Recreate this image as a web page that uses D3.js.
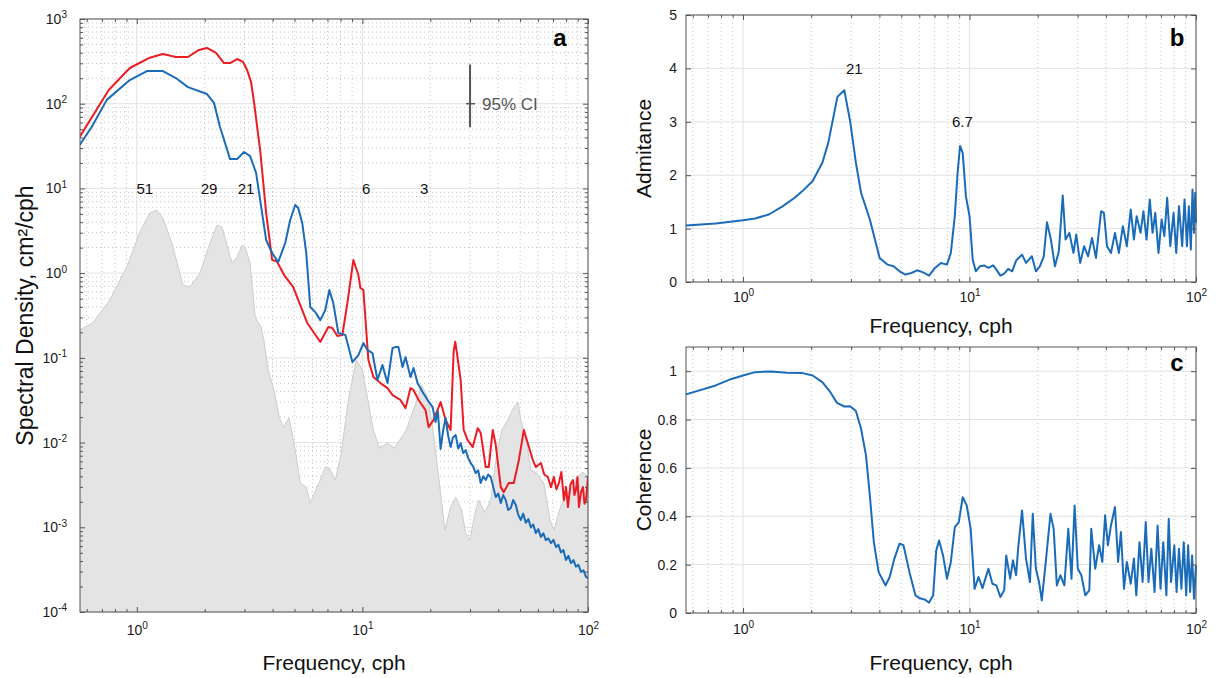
<!DOCTYPE html>
<html>
<head>
<meta charset="utf-8">
<script src="https://cdn.jsdelivr.net/npm/d3@7"></script>
<style>
  body { margin: 0; background: #fff; }
  text { font-family: "Liberation Sans", Arial, Helvetica, sans-serif; }
</style>
</head>
<body>
<script>
// ---- panel a: spectra (cph, cm^2/cph) ----
var redFreq = [0.558,0.751,0.931,1.131,1.305,1.49,1.685,1.886,2.047,2.244,2.436,2.591,2.783,2.958,3.083,3.211,3.311,3.522,3.744,3.981,4.18,4.5,4.935,5.696,6.506,7.063,7.356,7.743,8.149,8.577,9.12,9.6,9.797,10.1,10.63,11.19,12.02,12.92,13.6,14.31,14.75,15.53,16.34,16.85,17.74,19.05,19.65,20.68,22.22,23.38,24.61,25.38,25.8,26.17,27.26,28.11,29.29,30.83,32.45,33.45,35.21,36.31,37.83,39.01,41.05,42.33,44.56,46.9,49.37,51.96,54.7,56.96,58.74,61.83,64.0,66.4,68.49,70.6,72.4,74.3,76.2,78.2,79.9,81.5,83.6,85.8,87.1,88.4,89.8,91.2,93.1,95.0,96.5,98.0,100];
var redPsd = [40.4,145,264,346,386,356,356,431,455,397,302,302,337,311,250,180,102,28.4,5.12,1.43,1.37,0.95,0.685,0.258,0.1537,0.231,0.225,0.181,0.186,0.443,1.43,0.95,0.667,0.631,0.0942,0.0593,0.0504,0.044,0.0364,0.0335,0.0318,0.0255,0.044,0.0417,0.0318,0.0242,0.0152,0.0185,0.0301,0.0185,0.0141,0.12,0.155,0.12,0.0547,0.0141,0.0107,0.00885,0.0148,0.013,0.00514,0.00514,0.0141,0.00935,0.00298,0.0026,0.00333,0.00333,0.00621,0.0141,0.00885,0.00621,0.00514,0.00573,0.0042,0.00392,0.00298,0.00392,0.0028,0.00333,0.0045,0.00209,0.003,0.00173,0.0032,0.00361,0.0024,0.00275,0.0039,0.00173,0.0026,0.00298,0.0019,0.00209,0.00392];

var blueFreq = [0.558,0.631,0.736,0.931,1.108,1.305,1.49,1.685,2.047,2.199,2.338,2.591,2.783,2.989,3.179,3.38,3.522,3.744,3.981,4.233,4.548,4.786,5.038,5.195,5.412,5.638,5.873,6.18,6.506,6.848,7.134,7.431,7.823,8.405,9.028,9.6,10.1,10.52,11.08,11.66,12.27,12.92,13.6,14.02,14.45,15.06,15.53,16.34,16.85,17.56,18.48,19.45,20.47,21.1,21.6,22.22,22.8,23.38,24.0,24.61,25.2,25.9,26.6,27.26,28.0,28.7,29.4,30.2,31.0,31.78,32.6,33.45,34.3,35.21,36.1,37.06,38.0,39.01,40.0,41.05,42.1,43.2,44.3,45.48,46.6,47.86,49.1,50.38,51.6,53.0,54.4,55.81,57.2,58.74,60.2,61.83,63.4,65.06,66.7,68.49,70.3,72.1,74.0,75.86,77.8,79.84,81.9,84.04,86.2,88.4,90.7,93.1,95.5,98.0,100];
var bluePsd = [32.5,53.1,111,190,243,243,201,157,130,102,53.1,22.2,22.2,26.9,24.1,15.2,7.29,2.46,1.73,1.35,2.27,4.24,6.37,5.87,3.9,1.73,0.398,0.347,0.279,0.367,0.631,0.443,0.196,0.186,0.0892,0.108,0.1496,0.124,0.114,0.0547,0.0822,0.0504,0.1305,0.134,0.134,0.0779,0.102,0.0593,0.0758,0.0504,0.0395,0.0318,0.0262,0.0175,0.0235,0.0084,0.014,0.0195,0.012,0.00885,0.0115,0.01227,0.0085,0.00987,0.0075,0.00815,0.0066,0.00573,0.0052,0.00436,0.0047,0.00333,0.004,0.00361,0.0042,0.00392,0.003,0.00227,0.0025,0.00193,0.0024,0.00209,0.0016,0.00169,0.0021,0.00183,0.0014,0.00122,0.00145,0.00113,0.00125,0.000996,0.00108,0.000854,0.00095,0.000771,0.00085,0.000706,0.00074,0.00065,0.00071,0.000586,0.00062,0.000504,0.00054,0.00041,0.00046,0.000378,0.00041,0.000343,0.00036,0.000297,0.00031,0.000259,0.00025];

var grayFreq = [0.558,0.637,0.759,0.903,1.031,1.142,1.227,1.305,1.431,1.601,1.72,1.905,2.111,2.268,2.386,2.512,2.643,2.783,2.929,3.02,3.179,3.35,3.55,3.66,3.82,4.058,4.277,4.455,4.737,5.038,5.302,5.638,5.873,6.12,6.506,6.848,7.134,7.586,8.06,8.66,9.4,10.0,10.52,11.19,11.89,12.92,13.86,15.66,17.24,18.3,19.45,20.47,22.22,23.2,24.61,25.9,27.54,28.7,29.9,31.78,32.8,34.8,37.06,39.4,41.5,44.1,46.9,48.9,50.38,53.5,55.81,59.3,63.7,67.9,70.6,74.8,78.6,84.04,89.4,95.0,100];
var grayPsd = [0.213,0.258,0.481,1.18,3.06,5.12,5.56,4.47,2.27,0.724,0.685,1.0,2.27,3.7,3.5,2.15,1.316,1.55,2.15,2.03,1.316,0.3,0.234,0.16,0.0718,0.0417,0.02,0.0152,0.0195,0.00815,0.00333,0.00298,0.00193,0.00253,0.00361,0.00514,0.005,0.00361,0.00752,0.0318,0.0942,0.0718,0.0345,0.0141,0.00861,0.00987,0.00861,0.0141,0.0293,0.0477,0.0345,0.0152,0.00253,0.000927,0.00173,0.00227,0.0016,0.000854,0.000706,0.0016,0.00209,0.00151,0.00209,0.00752,0.0141,0.0185,0.0262,0.0301,0.0185,0.00987,0.00473,0.00436,0.00333,0.00122,0.000927,0.0016,0.00227,0.00275,0.00392,0.0045,0.00392];

var periodLabels = ["51", "29", "21", "6", "3"];
var periodFreq = [1.085, 2.09, 3.05, 10.4, 18.8];
var ciFreq = 30, ciCenter = 100, ciLow = 53, ciHigh = 290;

// ---- panel b: admitance ----
var admFreq = [0.56,0.757,1.0,1.13,1.30,1.50,1.69,1.83,2.03,2.24,2.38,2.61,2.80,2.97,3.15,3.32,3.63,4.01,4.35,4.62,4.91,5.21,5.53,5.88,6.24,6.63,7.04,7.48,7.95,8.27,8.61,8.86,9.08,9.33,9.64,10.0,10.33,10.66,11.1,11.64,12.12,12.72,13.14,13.68,14.23,14.82,15.43,16.06,17.06,17.76,18.86,19.63,20.44,21.28,21.98,22.88,23.83,24.8,25.8,26.55,27.6,28.77,29.59,30.8,32.06,33.38,34.75,36.17,38.12,39.2,40.48,42.13,43.87,45.66,47.55,49.5,51.5,53.2,54.7,56.9,58.6,60.5,62.5,64.3,66.1,68.3,70.5,72.5,74.6,77.0,79.6,81.8,84.1,86.9,89.0,91.2,93.0,94.9,96.5,98.0,99.2,100];
var admVal = [1.058,1.095,1.158,1.19,1.264,1.42,1.577,1.702,1.89,2.234,2.61,3.467,3.592,3.016,2.234,1.671,1.17,0.451,0.325,0.294,0.2,0.138,0.169,0.219,0.181,0.119,0.263,0.357,0.325,0.544,1.233,2.046,2.547,2.42,1.608,1.233,0.419,0.2,0.294,0.307,0.263,0.313,0.232,0.119,0.156,0.244,0.2,0.4,0.513,0.357,0.482,0.2,0.294,0.482,1.12,0.795,0.294,0.576,1.62,0.795,0.92,0.544,0.889,0.357,0.67,0.482,0.826,0.451,1.327,1.295,0.67,0.544,0.92,0.544,1.045,0.67,1.358,0.795,1.233,0.92,1.327,0.795,1.546,0.92,1.295,0.544,1.17,0.858,1.577,0.67,1.295,0.544,1.42,0.67,1.546,0.67,1.42,0.607,1.733,0.92,1.67,1.108];
var admLabels = ["21", "6.7"];
var admLabelFreq = [3.1, 9.3];
var admLabelVal = [4.0, 3.0];

// ---- panel c: coherence ----
var cohFreq = [0.56,0.757,0.889,1.0,1.13,1.33,1.56,1.83,2.03,2.24,2.43,2.60,2.80,2.97,3.15,3.32,3.49,3.63,3.78,3.97,4.26,4.44,4.66,4.91,5.11,5.43,5.77,6.0,6.37,6.63,6.91,7.13,7.34,7.64,7.95,8.27,8.61,8.97,9.33,9.72,10.12,10.53,10.96,11.41,12.12,12.62,13.14,13.68,14.23,14.52,15.12,15.55,16.06,16.39,17.06,17.76,18.49,19.02,19.63,20.28,20.85,21.71,22.78,23.53,24.3,25.2,26.23,27.3,28.2,29.11,30.07,31.17,32.45,33.8,34.47,35.89,37.36,38.58,39.69,40.82,42.13,43.87,45.3,46.6,48.1,49.5,51.5,53.2,54.5,56.3,58.1,60.0,61.7,63.5,65.6,67.7,69.7,71.7,74.0,75.8,77.6,80.2,82.1,84.1,86.2,88.3,90.5,92.3,94.2,96.1,98.0,100];
var cohVal = [0.904,0.941,0.968,0.982,0.996,0.999,0.994,0.992,0.982,0.955,0.913,0.869,0.854,0.855,0.835,0.762,0.652,0.486,0.293,0.169,0.114,0.149,0.225,0.287,0.28,0.169,0.073,0.062,0.055,0.043,0.073,0.259,0.3,0.238,0.142,0.211,0.355,0.376,0.479,0.445,0.348,0.1,0.149,0.103,0.183,0.121,0.114,0.066,0.094,0.238,0.142,0.218,0.156,0.266,0.424,0.225,0.128,0.41,0.183,0.128,0.052,0.211,0.41,0.348,0.114,0.156,0.114,0.348,0.142,0.445,0.183,0.156,0.073,0.094,0.348,0.183,0.28,0.211,0.404,0.28,0.362,0.438,0.211,0.335,0.1,0.211,0.121,0.225,0.073,0.293,0.128,0.376,0.128,0.266,0.087,0.362,0.1,0.293,0.073,0.39,0.128,0.28,0.087,0.266,0.1,0.293,0.073,0.28,0.087,0.238,0.059,0.197];

var fMin = 0.56, fMax = 100;
var RED = "#ec1c24", BLUE = "#1a6cb9";

var svg = d3.select("body").append("svg")
    .attr("width", 1216)
    .attr("height", 678);

function minorLog(lo, hi) {
    var out = [];
    for (var e = Math.floor(Math.log10(lo)); e < Math.ceil(Math.log10(hi)); e++) {
        for (var k = 2; k <= 9; k++) {
            var v = k * Math.pow(10, e);
            if (v >= lo && v <= hi) out.push(v);
        }
    }
    return out;
}

function supLabel(sel) {
    sel.each(function(d) {
        var t = d3.select(this), e = Math.round(Math.log10(d));
        t.text(null);
        t.append("tspan").text("10");
        t.append("tspan").attr("dy", "-0.55em").attr("font-size", "0.72em").text(e);
    });
}

// grid lines behind the data
function axes(g, x, y, w, h, o) {
    var grid = g.append("g");
    grid.selectAll(".xm").data(o.xMinor).join("line")
        .attr("x1", x).attr("x2", x).attr("y1", 0).attr("y2", h)
        .attr("stroke", "#c4c4c4").attr("stroke-dasharray", "1,3");
    if (o.yMinor) {
        grid.selectAll(".ym").data(o.yMinor).join("line")
            .attr("x1", 0).attr("x2", w).attr("y1", y).attr("y2", y)
            .attr("stroke", "#c4c4c4").attr("stroke-dasharray", "1,3");
    }
    grid.selectAll(".xM").data(o.xMajor).join("line")
        .attr("x1", x).attr("x2", x).attr("y1", 0).attr("y2", h)
        .attr("stroke", "#e2e2e2");
    grid.selectAll(".yM").data(o.yMajor).join("line")
        .attr("x1", 0).attr("x2", w).attr("y1", y).attr("y2", y)
        .attr("stroke", "#e2e2e2");
}

// box, inward ticks on all sides, tick labels
function frame(g, x, y, w, h, o) {
    var font = function(s) {
        s.attr("font-size", 14).attr("font-family", "'Liberation Sans', Arial, sans-serif");
        s.select(".domain").remove();
        s.selectAll("line").attr("stroke", "#555");
        s.selectAll("text").attr("fill", "#1a1a1a");
    };
    var xb = g.append("g").attr("transform", "translate(0," + h + ")")
        .call(d3.axisBottom(x).tickValues(o.xMajor).tickSize(-5).tickPadding(o.xPad));
    font(xb);
    xb.selectAll("text").call(supLabel);
    g.append("g").attr("transform", "translate(0," + h + ")")
        .call(d3.axisBottom(x).tickValues(o.xMinor).tickSize(-3).tickFormat("")).call(font);
    g.append("g").call(d3.axisTop(x).tickValues(o.xMajor).tickSize(-5).tickFormat("")).call(font);
    g.append("g").call(d3.axisTop(x).tickValues(o.xMinor).tickSize(-3).tickFormat("")).call(font);

    var yl = g.append("g").call(d3.axisLeft(y).tickValues(o.yMajor).tickSize(-5).tickPadding(o.yPad));
    font(yl);
    if (o.yLog) yl.selectAll("text").call(supLabel);
    else yl.selectAll("text").text(o.yFmt);
    g.append("g").attr("transform", "translate(" + w + ",0)")
        .call(d3.axisRight(y).tickValues(o.yMajor).tickSize(-5).tickFormat("")).call(font);
    if (o.yMinor) {
        g.append("g").call(d3.axisLeft(y).tickValues(o.yMinor).tickSize(-3).tickFormat("")).call(font);
        g.append("g").attr("transform", "translate(" + w + ",0)")
            .call(d3.axisRight(y).tickValues(o.yMinor).tickSize(-3).tickFormat("")).call(font);
    }
    g.append("rect").attr("width", w).attr("height", h)
        .attr("fill", "none").attr("stroke", "#555").attr("stroke-width", 1);
}

function title(x, y, txt, rot, size) {
    var t = svg.append("text").attr("font-size", size || 21).attr("fill", "#111")
        .attr("text-anchor", "middle");
    if (rot) t.attr("transform", "translate(" + x + "," + y + ") rotate(-90)");
    else t.attr("x", x).attr("y", y);
    t.text(txt);
}

var xMajor = [1, 10, 100];
var xMinor = minorLog(fMin, fMax);

// ================= panel a =================
var aL = 80, aT = 19, aW = 508, aH = 593;
var ga = svg.append("g").attr("transform", "translate(" + aL + "," + aT + ")");
var xa = d3.scaleLog().domain([fMin, fMax]).range([0, aW]);
var ya = d3.scaleLog().domain([1e-4, 1e3]).range([aH, 0]);
var aYMajor = [1e-4, 1e-3, 1e-2, 1e-1, 1, 10, 100, 1000];
var aYMinor = minorLog(1e-4, 1e3);
axes(ga, xa, ya, aW, aH, {xMajor: xMajor, xMinor: xMinor, yMajor: aYMajor, yMinor: aYMinor});

ga.append("clipPath").attr("id", "clipa").append("rect").attr("width", aW).attr("height", aH);
var plotA = ga.append("g").attr("clip-path", "url(#clipa)");

plotA.append("path")
    .datum(d3.zip(grayFreq, grayPsd))
    .attr("fill", "#e4e4e4")
    .attr("stroke", "#cdcdcd")
    .attr("stroke-width", 1)
    .attr("d", d3.area().x(function(d) { return xa(d[0]); }).y0(aH).y1(function(d) { return ya(d[1]); }));

var lineA = d3.line().x(function(d) { return xa(d[0]); }).y(function(d) { return ya(d[1]); });
plotA.append("path").datum(d3.zip(redFreq, redPsd))
    .attr("fill", "none").attr("stroke", RED).attr("stroke-width", 2).attr("stroke-linejoin", "round")
    .attr("d", lineA);
plotA.append("path").datum(d3.zip(blueFreq, bluePsd))
    .attr("fill", "none").attr("stroke", BLUE).attr("stroke-width", 2).attr("stroke-linejoin", "round")
    .attr("d", lineA);

ga.selectAll(".per").data(periodLabels).join("text")
    .attr("x", function(d, i) { return xa(periodFreq[i]); })
    .attr("y", ya(10))
    .attr("dy", "0.35em")
    .attr("text-anchor", "middle")
    .attr("font-size", 15)
    .attr("fill", "#111")
    .text(function(d) { return d; });

// 95% confidence bar
ga.append("line").attr("x1", xa(ciFreq)).attr("x2", xa(ciFreq))
    .attr("y1", ya(ciHigh)).attr("y2", ya(ciLow))
    .attr("stroke", "#555").attr("stroke-width", 2);
ga.append("line").attr("x1", xa(ciFreq) - 4).attr("x2", xa(ciFreq) + 5)
    .attr("y1", ya(ciCenter)).attr("y2", ya(ciCenter))
    .attr("stroke", "#555").attr("stroke-width", 1.5);
ga.append("text").attr("x", xa(ciFreq) + 12).attr("y", ya(ciCenter)).attr("dy", "0.35em")
    .attr("font-size", 17).attr("fill", "#555").text("95% CI");

frame(ga, xa, ya, aW, aH, {xMajor: xMajor, xMinor: xMinor, yMajor: aYMajor, yMinor: aYMinor,
    xPad: 13, yPad: 13, yLog: true});
ga.append("text").attr("x", aW - 28).attr("y", 27).attr("text-anchor", "middle")
    .attr("font-size", 24).attr("font-weight", "bold").text("a");

title(aL + aW / 2, 670, "Frequency, cph");
title(33, aT + aH / 2, "Spectral Density, cm\u00b2/cph", true, 23);

// ================= panel b =================
var bL = 686, bT = 15, bW = 510, bH = 267;
var gb = svg.append("g").attr("transform", "translate(" + bL + "," + bT + ")");
var xb = d3.scaleLog().domain([fMin, fMax]).range([0, bW]);
var yb = d3.scaleLinear().domain([0, 5]).range([bH, 0]);
var bYMajor = [0, 1, 2, 3, 4, 5];
axes(gb, xb, yb, bW, bH, {xMajor: xMajor, xMinor: xMinor, yMajor: bYMajor});
var lineB = d3.line().x(function(d) { return xb(d[0]); }).y(function(d) { return yb(d[1]); });
gb.append("path").datum(d3.zip(admFreq, admVal))
    .attr("fill", "none").attr("stroke", BLUE).attr("stroke-width", 2).attr("stroke-linejoin", "round")
    .attr("d", lineB);
gb.selectAll(".lbl").data(admLabels).join("text")
    .attr("x", function(d, i) { return xb(admLabelFreq[i]); })
    .attr("y", function(d, i) { return yb(admLabelVal[i]); })
    .attr("dy", "0.35em").attr("text-anchor", "middle")
    .attr("font-size", 15).attr("fill", "#111")
    .text(function(d) { return d; });
frame(gb, xb, yb, bW, bH, {xMajor: xMajor, xMinor: xMinor, yMajor: bYMajor,
    xPad: 10, yPad: 9, yFmt: function(d) { return d; }});
gb.append("text").attr("x", bW - 19).attr("y", 31).attr("text-anchor", "middle")
    .attr("font-size", 24).attr("font-weight", "bold").text("b");
title(bL + bW / 2, 333, "Frequency, cph");
title(651, bT + bH / 2, "Admitance", true);

// ================= panel c =================
var cL = 686, cT = 347, cW = 510, cH = 266;
var gc = svg.append("g").attr("transform", "translate(" + cL + "," + cT + ")");
var xc = d3.scaleLog().domain([fMin, fMax]).range([0, cW]);
var yc = d3.scaleLinear().domain([0, 1.1]).range([cH, 0]);
var cYMajor = [0, 0.2, 0.4, 0.6, 0.8, 1];
axes(gc, xc, yc, cW, cH, {xMajor: xMajor, xMinor: xMinor, yMajor: cYMajor});
var lineC = d3.line().x(function(d) { return xc(d[0]); }).y(function(d) { return yc(d[1]); });
gc.append("path").datum(d3.zip(cohFreq, cohVal))
    .attr("fill", "none").attr("stroke", BLUE).attr("stroke-width", 2).attr("stroke-linejoin", "round")
    .attr("d", lineC);
frame(gc, xc, yc, cW, cH, {xMajor: xMajor, xMinor: xMinor, yMajor: cYMajor,
    xPad: 11, yPad: 9, yFmt: function(d) { return d; }});
gc.append("text").attr("x", cW - 19).attr("y", 24).attr("text-anchor", "middle")
    .attr("font-size", 24).attr("font-weight", "bold").text("c");
title(cL + cW / 2, 670, "Frequency, cph");
title(651, cT + cH / 2, "Coherence", true);
</script>
</body>
</html>
